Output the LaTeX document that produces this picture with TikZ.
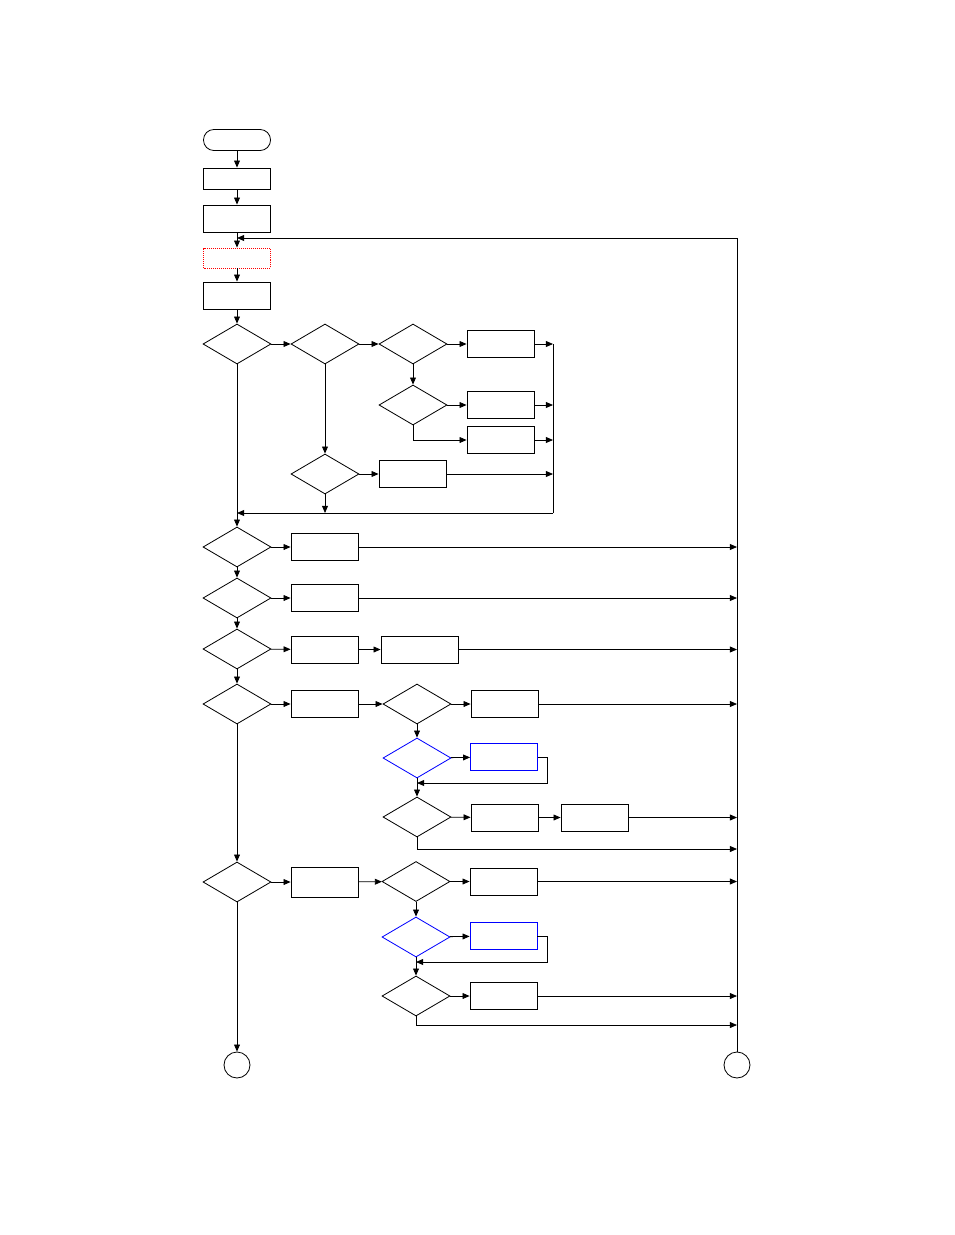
\documentclass[tikz,border=0pt]{standalone}
\usetikzlibrary{arrows.meta,shapes.geometric}

\begin{document}
\begin{tikzpicture}[x=0.03cm, y=-0.03cm, line width=0.7pt,
    box/.style={draw, minimum width=2.01cm, minimum height=0.81cm, inner sep=0pt},
    dec/.style={draw, diamond, minimum width=2.04cm, minimum height=1.2cm, inner sep=0pt},
    term/.style={draw, circle, minimum size=0.78cm, inner sep=0pt},
    arr/.style={-{Triangle[length=6pt,width=5pt]}}]
    \useasboundingbox (0,0) rectangle (954,1235);

    % začátek
    \node[box, rounded corners=0.31cm, minimum height=0.63cm] (start) at (237,140) {};
    \node[box, minimum height=0.63cm] (init) at (237,178.5) {};
    \node[box] (setup) at (237,218.5) {};
    \node[box, draw=red, densely dotted, minimum height=0.6cm] (wait) at (237,258) {};
    \node[box] (read) at (237,295.5) {};
    \coordinate (back) at (237,238);
    \draw[arr] (start) -- (init);
    \draw[arr] (init) -- (setup);
    \draw[arr] (setup) -- (wait);
    \draw[arr] (wait) -- (read);

    % první větvení
    \node[dec] (d1) at (237,344) {};
    \node[dec] (d2) at (325,344) {};
    \node[dec] (d3) at (413,344) {};
    \node[box] (ba) at (500.5,344) {};
    \node[dec] (d4) at (413,405) {};
    \node[box] (bb) at (500.5,405) {};
    \node[box] (bc) at (500.5,440) {};
    \node[dec] (d5) at (325,474) {};
    \node[box] (bd) at (412.5,474) {};
    \coordinate (sb) at (553,513);
    \draw[arr] (read) -- (d1);
    \draw[arr] (d1) -- (d2);
    \draw[arr] (d2) -- (d3);
    \draw[arr] (d3) -- (ba);
    \draw[arr] (d3) -- (d4);
    \draw[arr] (d4) -- (bb);
    \draw[arr] (d4.south) |- (bc);
    \draw[arr] (d2) -- (d5);
    \draw[arr] (d5) -- (bd);
    \foreach \n in {ba,bb,bc,bd}
        \draw[arr] (\n.east) -- (\n.east -| sb);
    \draw (sb |- ba.east) -- (sb);
    \draw[arr] (sb) -- (sb -| d1);
    \draw[arr] (d5.south) -- (d5.south |- sb);

    % hlavní větev
    \node[dec] (d6) at (237,547) {};
    \node[box] (be) at (324.5,547) {};
    \node[dec] (d7) at (237,598) {};
    \node[box] (bf) at (324.5,598) {};
    \node[dec] (d8) at (237,649) {};
    \node[box] (bg) at (324.5,649.5) {};
    \node[box, minimum width=2.31cm] (bh) at (419.5,649.5) {};
    \node[dec] (d9) at (237,704) {};
    \node[box] (bi) at (324.5,704) {};
    \node[dec] (d10) at (417,704) {};
    \node[box] (bj) at (504.5,704) {};
    \node[dec, draw=blue] (d11) at (417,758) {};
    \node[box, draw=blue] (bk) at (504,757) {};
    \node[dec] (d12) at (417,817) {};
    \node[box] (bl) at (504.5,817.5) {};
    \node[box] (bm) at (594.5,817.5) {};
    \node[dec] (d13) at (237,882) {};
    \node[box, minimum height=0.9cm] (bn) at (324.5,882) {};
    \node[dec] (d14) at (416,881.5) {};
    \node[box] (bo) at (503.5,881.5) {};
    \node[dec, draw=blue] (d15) at (416,937) {};
    \node[box, draw=blue] (bp) at (503.5,936) {};
    \node[dec] (d16) at (416,996) {};
    \node[box] (bq) at (503.5,996) {};
    \node[term] (c1) at (237,1065) {};
    \node[term] (c2) at (737,1065) {};

    \draw[arr] (d1) -- (d6);
    \draw[arr] (d6) -- (d7);
    \draw[arr] (d7) -- (d8);
    \draw[arr] (d8) -- (d9);
    \draw[arr] (d9) -- (d13);
    \draw[arr] (d13) -- (c1);
    \draw[arr] (d6) -- (be);
    \draw[arr] (d7) -- (bf);
    \draw[arr] (d8) -- (bg);
    \draw[arr] (bg) -- (bh);
    \draw[arr] (d9) -- (bi);
    \draw[arr] (bi) -- (d10);
    \draw[arr] (d10) -- (bj);
    \draw[arr] (d10) -- (d11);
    \draw[arr] (d11) -- (bk);
    \draw[arr] (bk.east) -- ++(9,0) |- (d11.south |- 0,783);
    \draw[arr] (d11) -- (d12);
    \draw[arr] (d12) -- (bl);
    \draw[arr] (bl) -- (bm);
    \draw[arr] (d12.south) |- (c2 |- 0,849);
    \draw[arr] (d13) -- (bn);
    \draw[arr] (bn) -- (d14);
    \draw[arr] (d14) -- (bo);
    \draw[arr] (d14) -- (d15);
    \draw[arr] (d15) -- (bp);
    \draw[arr] (bp.east) -- ++(10,0) |- (d15.south |- 0,962);
    \draw[arr] (d15) -- (d16);
    \draw[arr] (d16) -- (bq);
    \draw[arr] (d16.south) |- (c2 |- 0,1025);
    \foreach \n in {be,bf,bh,bj,bm,bo,bq}
        \draw[arr] (\n.east) -- (\n.east -| c2);

    % návrat
    \draw[arr] (c2) |- (back);
\end{tikzpicture}
\end{document}
